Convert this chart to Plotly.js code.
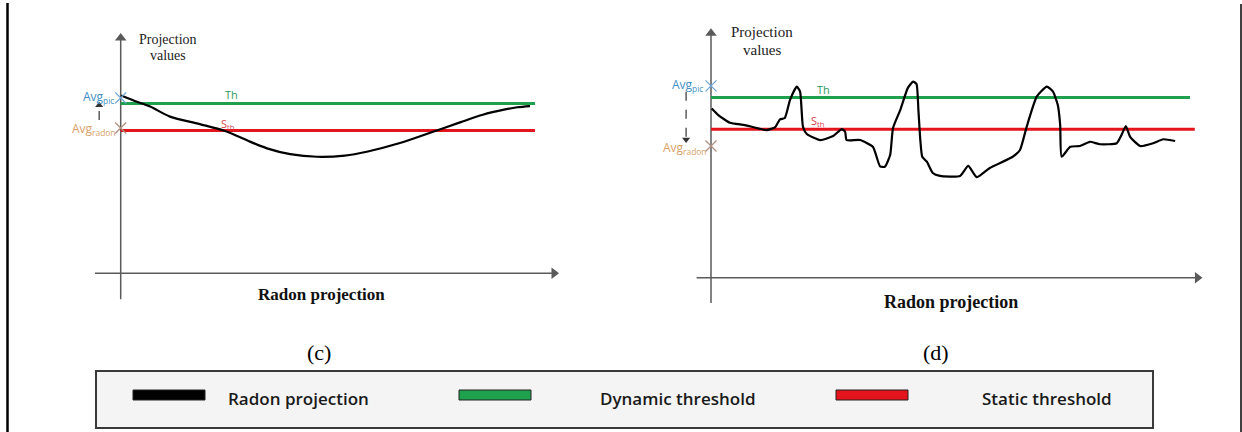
<!DOCTYPE html>
<html>
<head>
<meta charset="utf-8">
<script src="https://cdn.plot.ly/plotly-3.0.1.min.js"></script>
<style>html,body{margin:0;padding:0;background:#fff;}#chart{width:1242px;height:432px;}</style>
</head>
<body>
<div id="chart"></div>
<script>
// ---------- DATA ----------
// Panel (c): smooth radon projection
const cX = [0.1, 3.9, 7.1, 11.9, 19.1, 25.2, 31.2, 35.3, 40.9, 47.4, 54.1, 59.4, 67.4, 75.4, 81.9, 87.4, 92.8, 95.7, 98.8];
const cY = [74.0, 71.4, 69.4, 65.2, 62.1, 59.2, 54.8, 52.0, 49.6, 48.5, 49.0, 50.6, 54.2, 58.9, 62.8, 66.0, 68.2, 69.1, 69.6];
const cDynamic = 70.7;   // Th
const cStatic = 59.4;    // S_th
const cAvgPic = 73.0;
const cAvgRadon = 60.5;

// Panel (d): noisy radon projection
const dX = [0.15, 1.46, 3.97, 7.1, 11.6, 13.4, 14.4, 15.4, 16.5, 17.9, 18.6, 19.2, 20.0, 22.8, 25.5, 27.3, 28.0, 28.3, 31.1, 33.8, 35.3, 36.3, 37.4, 38.0, 39.5, 41.1, 42.2, 42.9, 43.3, 43.7, 44.1, 45.1, 46.3, 47.8, 52.0, 53.7, 55.5, 58.2, 63.0, 64.5, 65.9, 68.0, 70.1, 71.4, 72.4, 72.9, 73.2, 75.0, 77.0, 79.1, 81.2, 84.7, 85.7, 86.6, 87.5, 89.6, 92.3, 94.4, 96.9];
const dY = [67.8, 65.3, 62.1, 61.2, 59.2, 60.4, 63.5, 64.0, 71.3, 76.6, 74.6, 60.5, 57.6, 55.2, 56.8, 59.6, 58.5, 55.2, 55.2, 52.5, 44.6, 44.5, 49.2, 60.0, 67.2, 76.1, 78.6, 77.7, 67.2, 55.2, 48.5, 46.4, 42.0, 40.8, 40.8, 44.8, 40.3, 44.0, 48.5, 51.2, 60.5, 72.6, 76.6, 74.6, 69.2, 61.2, 48.5, 52.5, 52.8, 54.5, 53.5, 53.9, 57.2, 60.8, 56.5, 52.8, 53.9, 55.5, 54.8];
const dDynamic = 72.3;
const dStatic = 59.5;
const dAvgPic = 76.9;
const dAvgRadon = 52.8;

const panelLabels = ["(c)", "(d)"];
const legendNames = ["Radon projection", "Dynamic threshold", "Static threshold"];
const legendColors = ["#000000", "#1fa04c", "#e3141b"];

// ---------- LAYOUT HELPERS ----------
const W = 1242, H = 432;
const C = {ox: 120.7, oy: 273.3, sx: 4.143, sy: 2.403};
const D = {ox: 711, oy: 277.7, sx: 4.79, sy: 2.494};
function axisRanges(p) {
  return {x: [-p.ox / p.sx, (W - p.ox) / p.sx], y: [-(H - p.oy) / p.sy, p.oy / p.sy]};
}
const rc = axisRanges(C);
const rd = axisRanges(D);

const GREEN = "#1fa04c", RED = "#e3141b", AXIS = "#5a5a5a";
const BLUE_TXT = "#3f8fc4", ORANGE_TXT = "#d9a066";
const SERIF = "Liberation Serif, Times New Roman, serif";
const SANS = "Open Sans, Liberation Sans, sans-serif";

function panelTraces(xs, ys, dyn, stat, avgPic, avgRadon, xa, ya, lineEnd, statEnd, smooth) {
  return [
    {x: [0, lineEnd], y: [dyn, dyn], xaxis: xa, yaxis: ya, mode: "lines", line: {color: GREEN, width: 3}, hoverinfo: "skip"},
    {x: [0, statEnd], y: [stat, stat], xaxis: xa, yaxis: ya, mode: "lines", line: {color: RED, width: 3}, hoverinfo: "skip"},
    {x: xs, y: ys, xaxis: xa, yaxis: ya, mode: "lines", line: {color: "#000", width: 2.2, shape: "spline", smoothing: smooth}, hoverinfo: "skip"},
    {x: [0], y: [avgPic], xaxis: xa, yaxis: ya, mode: "markers", marker: {symbol: "x-thin-open", size: 11, color: "#6ea6d6", line: {color: "#6ea6d6", width: 1.3}}, hoverinfo: "skip"},
    {x: [0], y: [avgRadon], xaxis: xa, yaxis: ya, mode: "markers", marker: {symbol: "x-thin-open", size: 11, color: "#b08f80", line: {color: "#b08f80", width: 1.3}}, hoverinfo: "skip"}
  ];
}

// axis arrows drawn as line + triangle head (head centred so its tip sits at the end point)
function axisTraces(p, xa, ya, yBottom, yTop, xLeft, xRight) {
  const head = 10, r = head / 2;
  return [
    {x: [0, 0], y: [yBottom, yTop - r / p.sy], xaxis: xa, yaxis: ya, mode: "lines", line: {color: AXIS, width: 1.5}, hoverinfo: "skip"},
    {x: [0], y: [yTop - r / p.sy], xaxis: xa, yaxis: ya, mode: "markers", marker: {symbol: "triangle-up", size: head, color: AXIS}, hoverinfo: "skip"},
    {x: [xLeft, xRight - r / p.sx], y: [0, 0], xaxis: xa, yaxis: ya, mode: "lines", line: {color: AXIS, width: 1.5}, hoverinfo: "skip"},
    {x: [xRight - r / p.sx], y: [0], xaxis: xa, yaxis: ya, mode: "markers", marker: {symbol: "triangle-right", size: head, color: AXIS}, hoverinfo: "skip"}
  ];
}
// dashed double-level connector with a small head at the "to" end
function dashArrow(p, xa, ya, x, yFrom, yTo) {
  const head = 7, r = head / 2, up = yTo > yFrom;
  const yHead = up ? yTo - r / p.sy : yTo + r / p.sy;
  return [
    {x: [x, x], y: [yFrom, yHead], xaxis: xa, yaxis: ya, mode: "lines", line: {color: "#333", width: 1.2, dash: "dash"}, hoverinfo: "skip"},
    {x: [x], y: [yHead], xaxis: xa, yaxis: ya, mode: "markers", marker: {symbol: up ? "triangle-up" : "triangle-down", size: head, color: "#333"}, hoverinfo: "skip"}
  ];
}

const traces = [].concat(
  axisTraces(C, "x", "y", -10.8, 100, -6.2, 105.8),
  axisTraces(D, "x2", "y2", -10.1, 100, -3.0, 102.6),
  dashArrow(C, "x", "y", -5.2, 63.8, 71.4),
  dashArrow(D, "x2", "y2", -5.2, 74.6, 54.0),
  panelTraces(cX, cY, cDynamic, cStatic, cAvgPic, cAvgRadon, "x", "y", 100, 100, 0.9),
  panelTraces(dX, dY, dDynamic, dStatic, dAvgPic, dAvgRadon, "x2", "y2", 100, 101, 0.5)
);

function txt(xr, yr, x, y, text, size, color, family, xanchor, weight) {
  return {xref: xr, yref: yr, x: x, y: y, text: text, showarrow: false, xanchor: xanchor || "center", yanchor: "middle",
    font: {size: size, color: color, family: family, weight: weight || "normal"}};
}

const annotations = [
  // panel c texts
  txt("x", "y", 11.5, 97.5, "Projection", 14, "#222", SERIF),
  txt("x", "y", 11.5, 90.5, "values", 14, "#222", SERIF),
  txt("x", "y", -1.2, 73.2, "Avg<sub>pic</sub>", 12, BLUE_TXT, SANS, "right"),
  txt("x", "y", -0.8, 60.0, "Avg<sub>radon</sub>", 12, ORANGE_TXT, SANS, "right"),
  txt("x", "y", 26.8, 74.6, "Th", 11, "#2d9a5a", SANS),
  txt("x", "y", 25.9, 62.2, "S<sub>th</sub>", 11, "#d9474f", SANS),
  txt("x", "y", 48.5, -9.0, "<b>Radon projection</b>", 17, "#111", SERIF),
  // panel d texts
  txt("x2", "y2", 10.7, 98.5, "Projection", 15, "#222", SERIF),
  txt("x2", "y2", 10.7, 91.5, "values", 15, "#222", SERIF),
  txt("x2", "y2", -1.2, 77.2, "Avg<sub>pic</sub>", 12, BLUE_TXT, SANS, "right"),
  txt("x2", "y2", -0.6, 52.0, "Avg<sub>radon</sub>", 12, ORANGE_TXT, SANS, "right"),
  txt("x2", "y2", 23.4, 75.5, "Th", 11, "#2d9a5a", SANS),
  txt("x2", "y2", 22.3, 63.0, "S<sub>th</sub>", 11, "#d9474f", SANS),
  txt("x2", "y2", 50.0, -9.7, "<b>Radon projection</b>", 18, "#111", SERIF),
  // panel captions
  txt("paper", "paper", 319 / W, 1 - 352 / H, panelLabels[0], 22, "#000", SERIF),
  txt("paper", "paper", 936 / W, 1 - 352 / H, panelLabels[1], 22, "#000", SERIF)
];

// legend (drawn as a boxed key)
const legendSwatchX = [133, 459, 836];
const legendTextX = [226, 598, 980];
for (let i = 0; i < legendNames.length; i++) {
  annotations.push({xref: "paper", yref: "paper", x: legendTextX[i] / W, y: 1 - 398 / H, text: legendNames[i],
    showarrow: false, xanchor: "left", yanchor: "middle", font: {size: 17, color: "#1a1a1a", family: SANS, weight: 600}});
}

const shapes = [
  // page border lines
  {type: "line", xref: "paper", yref: "paper", x0: 7.5 / W, x1: 7.5 / W, y0: 0, y1: 1 - 3 / H, line: {color: "#000", width: 2.5}},
  {type: "line", xref: "paper", yref: "paper", x0: 1241 / W, x1: 1241 / W, y0: 0, y1: 1 - 4 / H, line: {color: "#000", width: 1.5}},
  // legend box
  {type: "rect", xref: "paper", yref: "paper", x0: 96 / W, x1: 1153 / W, y0: 1 - 428 / H, y1: 1 - 371 / H,
    fillcolor: "#f4f4f4", line: {color: "#3a3a3a", width: 2}}
];
for (let i = 0; i < legendColors.length; i++) {
  shapes.push({type: "rect", xref: "paper", yref: "paper", x0: legendSwatchX[i] / W, x1: (legendSwatchX[i] + 72) / W,
    y0: 1 - 400 / H, y1: 1 - 390 / H, fillcolor: legendColors[i], line: {color: "#222", width: 1}});
}

const hidden = {visible: false, fixedrange: true, domain: [0, 1]};
const layout = {
  width: W, height: H,
  margin: {l: 0, r: 0, t: 0, b: 0},
  paper_bgcolor: "#ffffff", plot_bgcolor: "rgba(0,0,0,0)",
  showlegend: false,
  xaxis: Object.assign({}, hidden, {range: rc.x, anchor: "y"}),
  yaxis: Object.assign({}, hidden, {range: rc.y, anchor: "x"}),
  xaxis2: Object.assign({}, hidden, {range: rd.x, anchor: "y2"}),
  yaxis2: Object.assign({}, hidden, {range: rd.y, anchor: "x2"}),
  annotations: annotations,
  shapes: shapes
};

Plotly.newPlot("chart", traces, layout, {staticPlot: true, displayModeBar: false});
</script>
</body>
</html>
